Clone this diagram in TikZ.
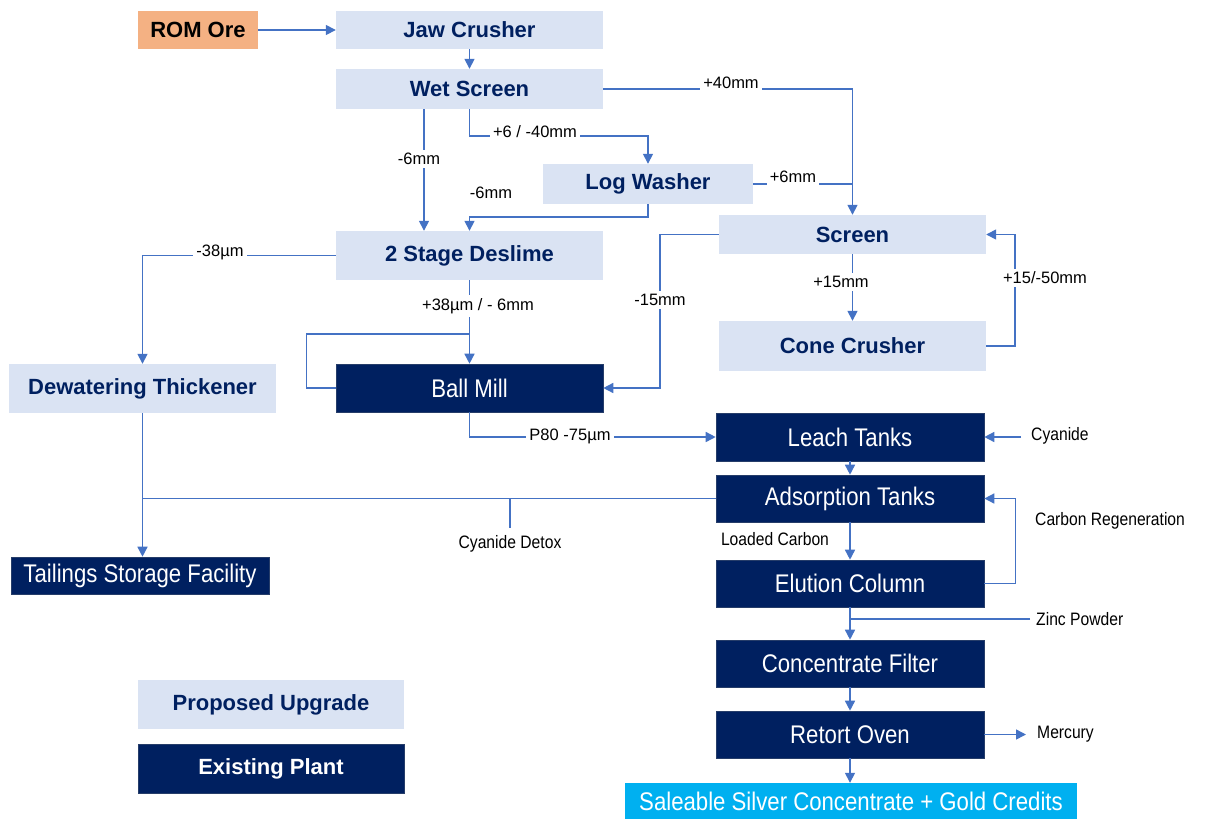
\documentclass[tikz,border=0pt]{standalone}
\usepackage{fontspec}
\setmainfont{Liberation Sans}
\newfontfamily\narrowfont[FakeStretch=0.87]{Liberation Sans}
\usetikzlibrary{arrows.meta}
\definecolor{lightbox}{HTML}{DAE3F3}
\definecolor{navy}{HTML}{002060}
\definecolor{orangebox}{HTML}{F4B183}
\definecolor{cyanbox}{HTML}{00B0F0}
\definecolor{lineblue}{HTML}{4472C4}
\tikzset{
  box/.style={rectangle, inner sep=0pt, align=center},
  light/.style={box, fill=lightbox, text=navy, font=\bfseries\fontsize{22}{26}\selectfont},
  dark/.style={box, fill=navy, draw=navy!70!gray, line width=0.6pt, text=white, font=\narrowfont\fontsize{25.5}{29}\selectfont},
  lab/.style={fill=white, inner sep=3pt, text=black, font=\fontsize{16.5}{19}\selectfont},
  side/.style={inner sep=2pt, text=black, font=\narrowfont\fontsize{18}{21}\selectfont},
  conn/.style={draw=lineblue, line width=1.5pt},
  flow/.style={conn, -{Triangle[length=10pt,width=10pt]}},
}
\begin{document}
\begin{tikzpicture}[x=1pt,y=-1pt]
\useasboundingbox (0,0) rectangle (1205,820);
% nodes
\node[box, fill=orangebox, text=black, font=\bfseries\fontsize{22}{26}\selectfont, minimum width=120, minimum height=38] (rom) at (198,30) {ROM Ore};
\node[light, minimum width=267, minimum height=38] (jaw) at (469.5,30) {Jaw Crusher};
\node[light, minimum width=267, minimum height=40] (wet) at (469.5,89) {Wet Screen};
\node[light, minimum width=210, minimum height=40] (log) at (648,184) {Log Washer};
\node[light, minimum width=267, minimum height=49] (deslime) at (469.5,255.5) {2 Stage Deslime};
\node[light, minimum width=267, minimum height=39] (screen) at (852.5,234.5) {Screen};
\node[light, minimum width=267, minimum height=50] (cone) at (852.5,346) {Cone Crusher};
\node[light, minimum width=267, minimum height=49] (dew) at (142.5,388.5) {Dewatering Thickener};
\node[dark, minimum width=267, minimum height=48] (ball) at (469.5,388) {Ball Mill};
\node[dark, minimum width=268, minimum height=48] (leach) at (850,437) {Leach Tanks};
\node[dark, minimum width=268, minimum height=47] (ads) at (850,498.5) {Adsorption Tanks};
\node[dark, minimum width=268, minimum height=47] (elu) at (850,583.5) {Elution Column};
\node[dark, minimum width=268, minimum height=47] (conc) at (850,663.5) {Concentrate Filter};
\node[dark, minimum width=268, minimum height=47] (ret) at (850,734.5) {Retort Oven};
\node[box, fill=cyanbox, text=white, font=\narrowfont\fontsize{25.5}{29}\selectfont, minimum width=452, minimum height=36] (sale) at (851,801) {Saleable Silver Concentrate + Gold Credits};
\node[dark, minimum width=258, minimum height=37] (tsf) at (140,575.5) {Tailings Storage Facility};
\node[light, minimum width=266, minimum height=49] (prop) at (271,704.5) {Proposed Upgrade};
\node[dark, font=\bfseries\fontsize{22}{26}\selectfont, minimum width=266, minimum height=49] (exist) at (271,768.5) {Existing Plant};
% side labels
\node[side, anchor=west, inner sep=0pt] (cyan) at (1031,436) {Cyanide};
\node[side] (detox) at (510,544) {Cyanide Detox};
\node[side] (loaded) at (775,539) {Loaded Carbon};
\node[side, anchor=west, inner sep=0pt] (regen) at (1035,521) {Carbon Regeneration};
\node[side, anchor=west, inner sep=0pt] (zinc) at (1036,619) {Zinc Powder};
\node[side, anchor=west, inner sep=0pt] (merc) at (1037,734) {Mercury};
% helper coordinates
\coordinate (xA) at (424,0);
\coordinate (xB) at (660,0);
\coordinate (xD) at (510,0);
\coordinate (yC) at (0,334);
\coordinate (yE) at (0,528);
\coordinate (cyanEnd) at (1021,0);
\coordinate (zincEnd) at (1030,0);
\coordinate (mercEnd) at (1026,0);
% connectors
\draw[flow] (rom) -- (jaw);
\draw[flow] (jaw) -- (wet);
\draw[flow] (wet.east) -| (screen.north);
\draw[conn] (log.east) -- (log.east -| screen.north);
\draw[flow] (wet.south) -- ++(0,27) -| (log.north);
\draw[flow] (wet.south -| xA) -- (deslime.north -| xA);
\draw[flow] (log.south) -- ++(0,13) -| (deslime.north);
\draw[flow] (screen.west) -- (xB |- screen.west) -- (xB |- ball.east) -- (ball.east);
\draw[flow] (screen.south) -- (cone.north);
\draw[flow] (cone.east) -- ++(29,0) |- (screen.east);
\draw[flow] (deslime.west) -| (dew.north);
\draw[flow] (deslime.south) -- (ball.north);
\draw[conn] (ball.west) -- ++(-29,0) |- (ball.north |- yC);
\draw[flow] (ball.south) |- (leach.west);
\draw[flow] (cyanEnd |- leach.east) -- (leach.east);
\draw[flow] (leach.south) -- (ads.north);
\draw[conn] (ads.west) -- (ads.west -| dew.south);
\draw[flow] (dew.south) -- (tsf.north -| dew.south);
\draw[conn] (xD |- ads.west) -- (xD |- yE);
\draw[flow] (ads.south) -- (elu.north);
\draw[flow] (elu.east) -- ++(31,0) |- (ads.east);
\draw[flow] (elu.south) -- (conc.north);
\draw[conn] (zincEnd |- zinc.west) -- (elu.south |- zinc.west);
\draw[flow] (conc.south) -- (ret.north);
\draw[flow] (ret.east) -- (mercEnd |- ret.east);
\draw[flow] (ret.south) -- (sale.north -| ret.south);
% line labels
\node[lab] (l40) at (731,83) {+40mm};
\node[lab] (l640) at (535,132) {+6 / -40mm};
\node[lab] (l6a) at (419,159) {-6mm};
\node[lab] (l6b) at (491,193) {-6mm};
\node[lab] (l6c) at (793,177) {+6mm};
\node[lab] (l15a) at (660,300) {-15mm};
\node[lab] (l15b) at (841,282) {+15mm};
\node[lab] (l1550) at (1045,278) {+15/-50mm};
\node[lab] (l38a) at (220,252) {-38µm};
\node[lab] (l38b) at (478,306) {+38µm / - 6mm};
\node[lab] (lp80) at (570,436) {P80 -75µm};
\end{tikzpicture}
\end{document}
